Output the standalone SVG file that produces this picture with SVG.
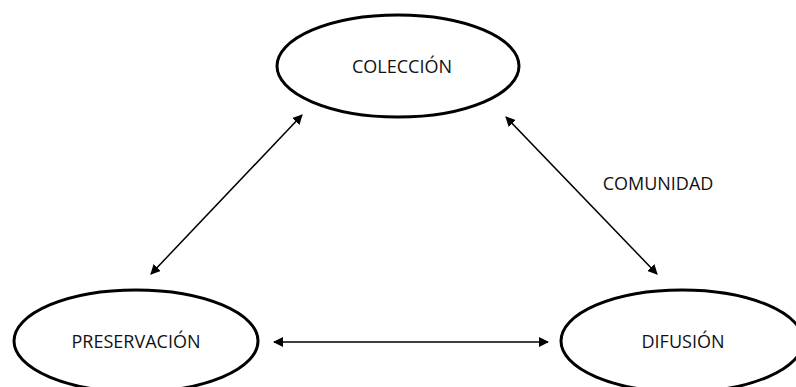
<svg xmlns="http://www.w3.org/2000/svg" width="796" height="387" viewBox="0 0 796 387">
<style>
.node ellipse{fill:#fff;stroke:#000;stroke-width:3}
.lbl{font-family:"Open Sans","Noto Sans",sans-serif;font-size:18px;fill:#111;text-anchor:middle}
.conn line{stroke:#000;stroke-width:1.5;marker-start:url(#ah);marker-end:url(#ah)}
</style>
<defs>
<marker id="ah" viewBox="0 0 10 10" refX="9" refY="5" markerWidth="10" markerHeight="10" markerUnits="userSpaceOnUse" orient="auto-start-reverse">
<path d="M0,0 L10,5 L0,10 z" fill="#000"/>
</marker>
</defs>
<rect width="796" height="387" fill="#fff"/>
<g id="coleccion" class="node">
<ellipse cx="398" cy="66" rx="121" ry="51"/>
<text class="lbl" x="402" y="73">COLECCIÓN</text>
</g>
<g id="preservacion" class="node">
<ellipse cx="136" cy="341" rx="122" ry="51"/>
<text class="lbl" x="136" y="348">PRESERVACIÓN</text>
</g>
<g id="difusion" class="node">
<ellipse cx="682" cy="341" rx="121" ry="51"/>
<text class="lbl" x="683" y="348">DIFUSIÓN</text>
</g>
<g id="connectors" class="conn">
<line x1="302" y1="115" x2="151" y2="274"/>
<line x1="506" y1="117" x2="657" y2="274"/>
<line x1="274" y1="342" x2="548" y2="342"/>
</g>
<text id="comunidad" class="lbl" x="658" y="190">COMUNIDAD</text>
</svg>
